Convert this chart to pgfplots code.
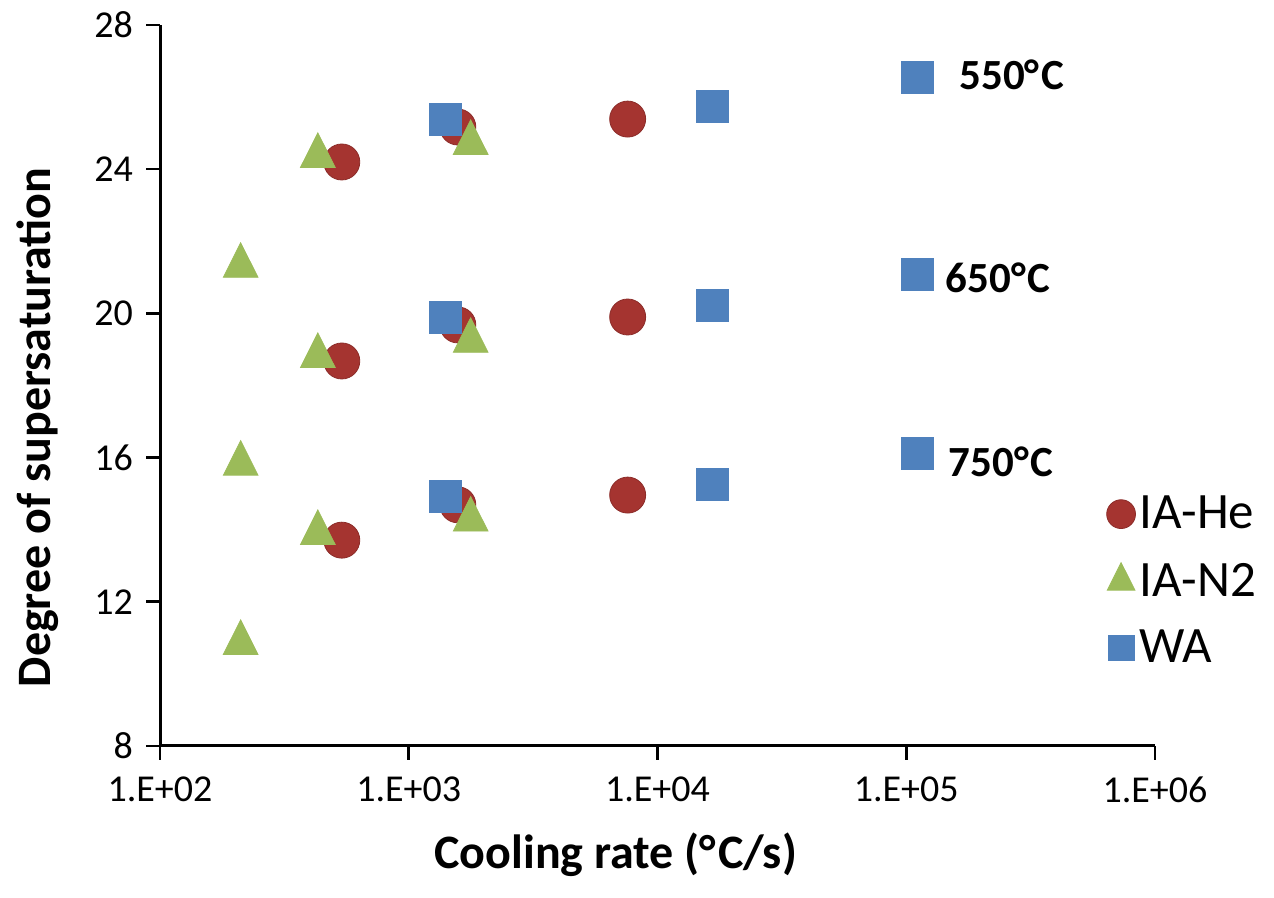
\documentclass[border=0pt]{standalone}
\usepackage{pgfplots}
\pgfplotsset{compat=1.18}
\usepackage{fontspec}
\setmainfont{Carlito}
\definecolor{cred}{RGB}{165,52,48}
\definecolor{cgreen}{RGB}{155,187,89}
\definecolor{cblue}{RGB}{79,129,189}
\begin{document}
\begin{tikzpicture}
\path (-80pt,-76pt) rectangle (557pt,373pt);
\begin{axis}[
  at={(0,0)}, anchor=south west,
  scale only axis, width=497.5pt, height=360.5pt,
  xmode=log, xmin=100, xmax=1e6,
  ymin=8, ymax=28,
  xtick={1e2,1e3,1e4,1e5,1e6},
  xticklabels={1.E+02,1.E+03,1.E+04,1.E+05,1.E+06},
  ytick={8,12,16,20,24,28},
  yticklabels={8,12,16,20,24,28},
  xminorticks=false,
  axis x line*=bottom, axis y line*=left,
  axis line style={line width=1.5pt, black},
  major tick style={line width=1.3pt, black},
  major tick length=7pt,
  tick align=outside,
  xticklabel style={yshift=-5pt, font=\fontsize{19}{22}\selectfont, scale=1},
  yticklabel style={xshift=-3pt, font=\fontsize{19}{22}\selectfont, scale=1},
  xlabel={\textbf{Cooling rate (°\kern1ptC/s)}},
  ylabel={\textbf{Degree of supersaturation}},
  xlabel style={at={(rel axis cs:0.458,0)}, anchor=center, yshift=-54.5pt, font=\fontsize{24}{28}\selectfont},
  ylabel style={at={(rel axis cs:0,0.442)}, anchor=center, yshift=61pt, font=\fontsize{24}{28}\selectfont},
  clip=false,
  legend style={draw=none, fill=none, at={(rel axis cs:0.945,0.358)}, anchor=north west,
    font=\fontsize{25.5}{30}\selectfont, row sep=11.5pt, cells={anchor=west}},
  legend image post style={scale=0.8},
]
\addplot[only marks, mark=*, mark size=9pt, color=cred, mark options={fill=cred, draw=cred!85!black}] coordinates {
(538,24.2) (1575,25.17) (7586,25.39)
(538,18.68) (1575,19.68) (7586,19.9)
(538,13.71) (1575,14.69) (7586,14.96)
};
\addlegendentry{IA-He}
\addplot[only marks, mark=triangle*, mark size=10pt, color=cgreen, mark options={fill=cgreen, draw=cgreen, yscale=1.15}] coordinates {
(211,21.32) (431,24.37) (1774,24.73)
(431,18.82) (1774,19.24)
(211,15.83) (431,13.91) (1774,14.28)
(211,10.86)
};
\addlegendentry{IA-N2}
\addplot[only marks, mark=square*, mark size=8pt, color=cblue, mark options={fill=cblue, draw=cblue}] coordinates {
(1409,25.39) (16630,25.75) (110600,26.56)
(1409,19.9) (16630,20.23) (110600,21.07)
(1409,14.93) (16630,15.27) (110600,16.13)
};
\addlegendentry{WA}
\node[anchor=west, font=\bfseries\fontsize{21.5}{25}\selectfont, inner sep=0pt] at (axis cs:1.63e5,26.61) {550°\kern1ptC};
\node[anchor=west, font=\bfseries\fontsize{21.5}{25}\selectfont, inner sep=0pt] at (axis cs:1.435e5,20.98) {650°\kern1ptC};
\node[anchor=west, font=\bfseries\fontsize{21.5}{25}\selectfont, inner sep=0pt] at (axis cs:1.476e5,15.88) {750°\kern1ptC};
\end{axis}
\end{tikzpicture}
\end{document}
